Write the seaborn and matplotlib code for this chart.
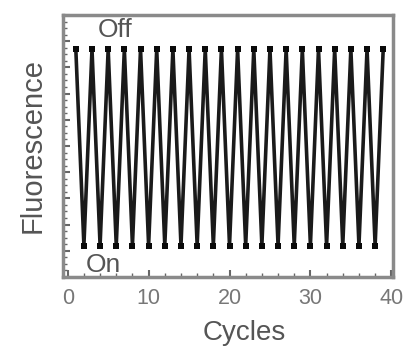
import numpy as np
import pandas as pd
import matplotlib
matplotlib.use("Agg")
import matplotlib.pyplot as plt
import seaborn as sns
from matplotlib.ticker import MultipleLocator, NullFormatter

# Data: alternating Off (high) / On (low) states
cycles = list(range(1, 40))
states = ["Off" if c % 2 == 1 else "On" for c in cycles]
state_level = {"Off": 0.87, "On": 0.12}
fluorescence = [state_level[s] for s in states]

xticks = [0, 10, 20, 30, 40]

df = pd.DataFrame({"Cycles": cycles, "Fluorescence": fluorescence})

sns.set_theme(style="white")
plt.rcParams["font.family"] = ["Liberation Sans", "DejaVu Sans"]

fig = plt.figure(figsize=(4.03, 3.48), dpi=100)
ax = fig.add_axes([0.156, 0.204, 0.819, 0.753])

sns.lineplot(data=df, x="Cycles", y="Fluorescence", ax=ax, color="#1a1a1a",
             linewidth=2.6, marker="s", markersize=4.5, markeredgewidth=0,
             markerfacecolor="#0a0a0a")

ax.set_xlim(-0.6, 40.2)
ax.set_ylim(0, 1)
ax.set_xticks(xticks)
ax.set_xticklabels([str(t) for t in xticks], color="#777777", fontsize=15.5)
ax.xaxis.set_minor_locator(MultipleLocator(2))
ax.yaxis.set_major_locator(MultipleLocator(0.1))
ax.yaxis.set_minor_locator(MultipleLocator(0.025))
ax.yaxis.set_major_formatter(NullFormatter())
ax.tick_params(axis="both", which="major", direction="in", length=5, width=1.5,
               color="#666666", pad=8)
ax.tick_params(axis="both", which="minor", direction="in", length=3, width=1,
               color="#666666")
ax.tick_params(axis="x", which="both", bottom=True)
ax.tick_params(axis="y", which="both", left=True)

for sp in ax.spines.values():
    sp.set_color("#8a8a8a")
    sp.set_linewidth(2.5)

ax.set_xlabel("Cycles", fontsize=20, color="#555555", labelpad=14)
ax.xaxis.set_label_coords(0.55, -0.165)
ax.xaxis.label.set_va("top")
ax.set_ylabel("Fluorescence", fontsize=21, color="#555555", labelpad=4)

ax.text(0.105, 0.99, "Off", transform=ax.transAxes, fontsize=19,
        color="#555555", ha="left", va="top")
ax.text(0.07, 0.0, "On", transform=ax.transAxes, fontsize=19,
        color="#555555", ha="left", va="bottom")

fig.savefig("out.png", dpi=100, facecolor="white")
